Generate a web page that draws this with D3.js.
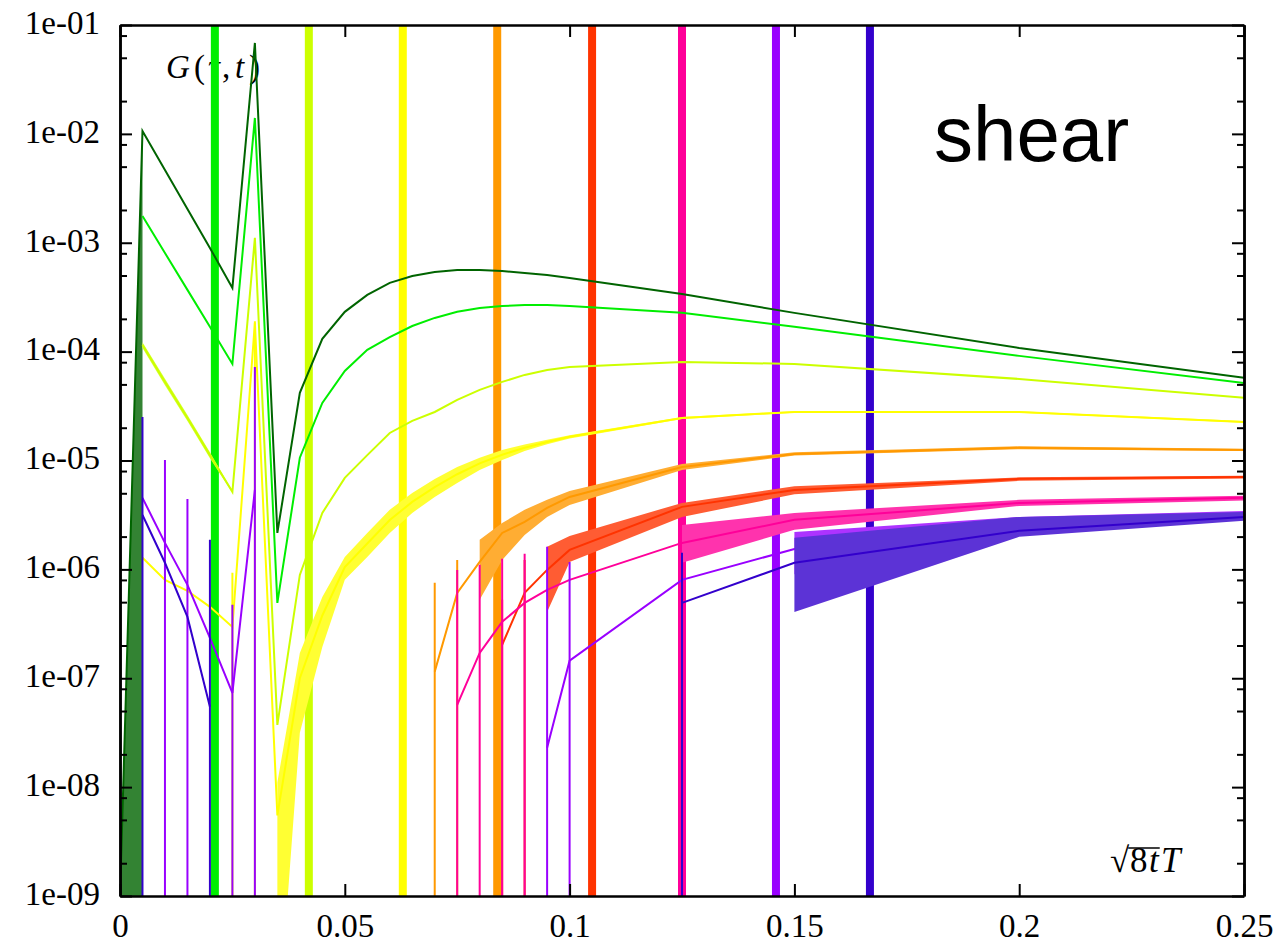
<!DOCTYPE html>
<html>
<head>
<meta charset="utf-8">
<script src="https://cdn.jsdelivr.net/npm/d3@7"></script>
<style>
  body { margin: 0; background: #fff; }
</style>
</head>
<body>
<script>
// one array per tau, rows are [sqrt(8t)T, G, lower, upper]
// lower = 0 means the lower error went negative (drawn as a bar to the bottom)
var tau1 = [
  [0, 1e-9, 1e-9, 1e-9], [0.005, 1.06e-2, 1e-9, 1.1e-2], [0.01, 4.67e-3], [0.015, 2.04e-3],
  [0.02, 8.96e-4], [0.025, 3.85e-4], [0.03, 6.84e-2], [0.035, 2.16e-6], [0.04, 4.18e-5],
  [0.045, 1.31e-4], [0.05, 2.32e-4], [0.055, 3.32e-4], [0.06, 4.28e-4], [0.065, 4.95e-4],
  [0.07, 5.39e-4], [0.075, 5.62e-4], [0.08, 5.62e-4], [0.085, 5.51e-4], [0.09, 5.28e-4],
  [0.095, 5.06e-4], [0.1, 4.75e-4], [0.125, 3.39e-4], [0.15, 2.27e-4], [0.2, 1.08e-4], [0.25, 5.74e-5]
];
var tau2 = [
  [0.005, 1.76e-3], [0.01, 8.05e-4], [0.015, 3.69e-4], [0.02, 1.69e-4], [0.025, 7.71e-5],
  [0.03, 1.40e-2], [0.035, 4.92e-7], [0.04, 1.06e-5], [0.045, 3.38e-5], [0.05, 6.65e-5],
  [0.055, 1.04e-4], [0.06, 1.36e-4], [0.065, 1.72e-4], [0.07, 2.04e-4], [0.075, 2.32e-4],
  [0.08, 2.52e-4], [0.085, 2.62e-4], [0.09, 2.68e-4], [0.095, 2.68e-4], [0.1, 2.62e-4],
  [0.125, 2.27e-4], [0.15, 1.69e-4], [0.2, 9.14e-5], [0.25, 5.16e-5]
];
var tau3 = [
  [0.005, 1.15e-4, 1.08e-4, 1.22e-4], [0.01, 5.27e-5, 4.92e-5, 5.62e-5], [0.015, 2.46e-5, 2.30e-5, 2.62e-5],
  [0.02, 1.12e-5, 1.05e-5, 1.19e-5], [0.025, 5.15e-6, 5.05e-6, 5.25e-6], [0.03, 1.11e-3],
  [0.035, 3.73e-8], [0.04, 8.9e-7], [0.045, 3.30e-6], [0.05, 6.92e-6], [0.055, 1.12e-5],
  [0.06, 1.79e-5], [0.065, 2.31e-5], [0.07, 2.79e-5], [0.075, 3.60e-5], [0.08, 4.45e-5],
  [0.085, 5.27e-5], [0.09, 6.11e-5], [0.095, 6.79e-5], [0.1, 7.24e-5], [0.125, 8.04e-5],
  [0.15, 7.71e-5], [0.2, 5.61e-5], [0.25, 3.76e-5]
];
var tau4 = [
  [0.005, 1.28e-6], [0.01, 8.01e-7], [0.015, 6.36e-7], [0.02, 4.53e-7], [0.025, 2.96e-7, 0, 9.29e-7],
  [0.03, 1.84e-4, 0, 1.9e-4], [0.035, 5.5e-9, 5e-11, 1.1e-8], [0.04, 1.0e-7, 3.15e-8, 1.71e-7],
  [0.045, 3.77e-7, 1.94e-7, 5.59e-7], [0.05, 1.05e-6, 8.01e-7, 1.30e-6], [0.055, 1.73e-6, 1.30e-6, 2.16e-6],
  [0.06, 2.84e-6, 2.16e-6, 3.52e-6], [0.065, 4.17e-6, 3.30e-6, 5.04e-6], [0.07, 5.7e-6, 4.63e-6, 6.78e-6],
  [0.075, 7.48e-6, 6.23e-6, 8.73e-6], [0.08, 9.4e-6, 8.2e-6, 1.06e-5], [0.085, 1.13e-5, 1.01e-5, 1.25e-5],
  [0.09, 1.31e-5, 1.22e-5, 1.40e-5], [0.095, 1.48e-5, 1.41e-5, 1.55e-5], [0.1, 1.65e-5, 1.59e-5, 1.71e-5],
  [0.125, 2.46e-5, 2.41e-5, 2.51e-5], [0.15, 2.79e-5, 2.74e-5, 2.84e-5], [0.2, 2.79e-5, 2.74e-5, 2.84e-5],
  [0.25, 2.26e-5, 2.22e-5, 2.30e-5]
];
var tau5 = [
  [0.07, 1.15e-7, 0, 7.52e-7], [0.075, 6.08e-7, 0, 1.22e-6], [0.08, 1.17e-6, 5.25e-7, 1.87e-6],
  [0.085, 2.16e-6, 1.22e-6, 2.67e-6], [0.09, 2.73e-6, 2.07e-6, 3.52e-6], [0.095, 3.67e-6, 3.03e-6, 4.36e-6],
  [0.1, 4.63e-6, 3.91e-6, 5.26e-6], [0.125, 8.73e-6, 8.2e-6, 9.3e-6], [0.15, 1.15e-5, 1.11e-5, 1.19e-5],
  [0.2, 1.31e-5, 1.27e-5, 1.35e-5], [0.25, 1.25e-5, 1.22e-5, 1.28e-5]
];
var tau6 = [
  [0.085, 2.03e-7, 0, 5.25e-7], [0.09, 6.08e-7, 0, 1.22e-6], [0.095, 9.89e-7, 4.07e-7, 1.61e-6],
  [0.1, 1.51e-6, 1.17e-6, 2.03e-6], [0.125, 3.75e-6, 3.03e-6, 4.08e-6], [0.15, 5.37e-6, 4.9e-6, 5.8e-6],
  [0.2, 6.78e-6, 6.5e-6, 7.0e-6], [0.25, 7.06e-6, 6.85e-6, 7.25e-6]
];
var tau7 = [
  [0.075, 5.70e-8, 0, 9.89e-7], [0.08, 1.71e-7, 0, 1.10e-6], [0.085, 3.30e-7, 0, 1.25e-6],
  [0.09, 4.92e-7, 0, 1.39e-6], [0.095, 6.49e-7], [0.1, 8.01e-7], [0.125, 1.75e-6, 1.15e-6, 2.56e-6],
  [0.15, 2.85e-6, 2.31e-6, 3.30e-6], [0.2, 4.08e-6, 3.83e-6, 4.35e-6], [0.25, 4.54e-6, 4.3e-6, 4.75e-6]
];
var tau8 = [
  [0.005, 4.54e-6], [0.01, 1.75e-6, 0, 1.01e-5], [0.015, 7.21e-7, 0, 4.44e-6], [0.02, 2.35e-7],
  [0.025, 7.35e-8, 0, 4.72e-7], [0.03, 5.37e-6, 0, 7.24e-5], [0.035, null],
  [0.095, 2.30e-8, 0, 1.61e-6], [0.1, 1.45e-7, 0, 1.17e-6], [0.125, 8.01e-7],
  [0.15, 1.54e-6, 0.9e-6, 2.21e-6], [0.2, 2.62e-6, 2.2e-6, 3.03e-6], [0.25, 3.24e-6, 3.0e-6, 3.44e-6]
];
var tau9 = [
  [0.005, 3.16e-6, 0, 2.51e-5], [0.01, 1.15e-6], [0.015, 3.66e-7], [0.02, 5.46e-8, 0, 1.87e-6],
  [0.025, null], [0.125, 4.92e-7, 0, 1.42e-6], [0.15, 1.15e-6, 4.07e-7, 1.95e-6],
  [0.2, 2.26e-6, 1.99e-6, 3.03e-6], [0.25, 3.03e-6, 2.79e-6, 3.37e-6]
];

var tauColors = ['#006400', '#00ee00', '#ccff00', '#ffff00', '#ff9900', '#ff3300', '#ff0099', '#9900ff', '#3300cc'];
// flow time limit for tau2..tau9
var cutoffX = [0.0211, 0.0420, 0.0629, 0.0839, 0.1050, 0.1250, 0.1459, 0.1668];

var yTicks = [1e-9, 1e-8, 1e-7, 1e-6, 1e-5, 1e-4, 1e-3, 1e-2, 1e-1];
var yTickLabels = ['1e-09', '1e-08', '1e-07', '1e-06', '1e-05', '1e-04', '1e-03', '1e-02', '1e-01'];
var yMinorSteps = [2, 5, 8];
var xTicks = [0, 0.05, 0.1, 0.15, 0.2, 0.25];
var xTickLabels = ['0', '0.05', '0.1', '0.15', '0.2', '0.25'];

var w = 1278;
var h = 943;
var padLeft = 120, padRight = 1244, padTop = 25, padBottom = 896;
var serif = 'Liberation Serif, Times New Roman, serif';

var svg = d3.select('body')
  .append('svg')
  .attr('width', w)
  .attr('height', h);

svg.append('rect')
  .attr('width', w)
  .attr('height', h)
  .attr('fill', 'white');

var xScale = d3.scaleLinear()
  .domain([0, 0.25])
  .range([padLeft, padRight]);

var yScale = d3.scaleLog()
  .domain([1e-9, 1e-1])
  .range([padBottom, padTop]);

svg.append('clipPath')
  .attr('id', 'plotArea')
  .append('rect')
  .attr('x', padLeft)
  .attr('y', padTop)
  .attr('width', padRight - padLeft)
  .attr('height', padBottom - padTop);

// label sits behind everything
var gLabel = svg.append('text')
  .attr('y', 78)
  .attr('font-family', serif)
  .attr('font-size', 33);
gLabel.append('tspan').attr('x', 166).attr('font-style', 'italic').text('G');
gLabel.append('tspan').attr('x', 194).text('(');
gLabel.append('tspan').attr('x', 208).attr('font-style', 'italic').text('τ');
gLabel.append('tspan').attr('x', 222).text(',');
gLabel.append('tspan').attr('x', 235).attr('font-style', 'italic').text('t');
gLabel.append('tspan').attr('x', 249).text(')');

var plot = svg.append('g').attr('clip-path', 'url(#plotArea)');

// vertical markers, behind the data
plot.selectAll('rect.cut')
  .data(cutoffX)
  .enter()
  .append('rect')
  .attr('class', 'cut')
  .attr('x', function(d){ return xScale(d) - 4; })
  .attr('y', padTop)
  .attr('width', 8)
  .attr('height', padBottom - padTop)
  .attr('fill', function(d, i){ return tauColors[i + 1]; });

var allTau = [tau1, tau2, tau3, tau4, tau5, tau6, tau7, tau8, tau9];

var band = d3.area()
  .defined(function(d){ return d[2] > 0 && d[3] > 0; })
  .x(function(d){ return xScale(d[0]); })
  .y0(function(d){ return yScale(d[2]); })
  .y1(function(d){ return yScale(d[3]); });

var line = d3.line()
  .defined(function(d){ return d[1] != null; })
  .x(function(d){ return xScale(d[0]); })
  .y(function(d){ return yScale(d[1]); });

allTau.forEach(function(rows, i){
  var colour = tauColors[i];

  plot.append('path')
    .attr('d', band(rows))
    .attr('fill', d3.interpolateRgb(colour, '#ffffff')(0.2))
    .attr('stroke', 'none');

  plot.append('path')
    .attr('d', line(rows))
    .attr('fill', 'none')
    .attr('stroke', colour)
    .attr('stroke-width', 2);

  plot.selectAll('line.err' + i)
    .data(rows.filter(function(d){ return d[2] === 0; }))
    .enter()
    .append('line')
    .attr('class', 'err' + i)
    .attr('x1', function(d){ return xScale(d[0]); })
    .attr('x2', function(d){ return xScale(d[0]); })
    .attr('y1', function(d){ return yScale(d[3]); })
    .attr('y2', padBottom + 5)
    .attr('stroke', colour)
    .attr('stroke-width', 2);
});

// axes, ticks point inwards
var yMinor = [];
yTicks.forEach(function(t){
  yMinorSteps.forEach(function(m){
    if (t * m < 1e-1) yMinor.push(t * m);
  });
});

function styleAxis(g){
  g.select('.domain').attr('stroke-width', 2.5);
  g.selectAll('.tick line').attr('stroke-width', 2);
  g.selectAll('text')
    .attr('font-family', serif)
    .attr('font-size', 33)
    .attr('fill', 'black');
}

svg.append('g')
  .attr('transform', 'translate(' + padLeft + ',0)')
  .call(d3.axisLeft(yScale).tickValues(yTicks)
    .tickFormat(function(d, i){ return yTickLabels[i]; })
    .tickSizeInner(-12).tickSizeOuter(0).tickPadding(20))
  .call(styleAxis)
  .selectAll('text').attr('dy', '0.25em');

svg.append('g')
  .attr('transform', 'translate(' + padLeft + ',0)')
  .call(d3.axisLeft(yScale).tickValues(yMinor).tickFormat('')
    .tickSizeInner(-7).tickSizeOuter(0))
  .call(styleAxis);

svg.append('g')
  .attr('transform', 'translate(' + padRight + ',0)')
  .call(d3.axisRight(yScale).tickValues(yTicks).tickFormat('')
    .tickSizeInner(-12).tickSizeOuter(0))
  .call(styleAxis);

svg.append('g')
  .attr('transform', 'translate(' + padRight + ',0)')
  .call(d3.axisRight(yScale).tickValues(yMinor).tickFormat('')
    .tickSizeInner(-7).tickSizeOuter(0))
  .call(styleAxis);

svg.append('g')
  .attr('transform', 'translate(0,' + padBottom + ')')
  .call(d3.axisBottom(xScale).tickValues(xTicks)
    .tickFormat(function(d, i){ return xTickLabels[i]; })
    .tickSizeInner(-12).tickSizeOuter(0).tickPadding(18))
  .call(styleAxis);

svg.append('g')
  .attr('transform', 'translate(0,' + padTop + ')')
  .call(d3.axisTop(xScale).tickValues(xTicks).tickFormat('')
    .tickSizeInner(-12).tickSizeOuter(0))
  .call(styleAxis);

// titles
svg.append('text')
  .attr('x', 934)
  .attr('y', 161)
  .attr('font-family', 'Liberation Sans, Arial, sans-serif')
  .attr('font-size', 78)
  .text('shear');

var xLabel = svg.append('text')
  .attr('y', 872)
  .attr('font-family', serif)
  .attr('font-size', 35);
xLabel.append('tspan').attr('x', 1110).text('√');
xLabel.append('tspan').attr('x', 1130).text('8');
xLabel.append('tspan').attr('x', 1149).attr('font-style', 'italic').text('t');
xLabel.append('tspan').attr('x', 1161).attr('font-style', 'italic').text('T');

var rootStart = xLabel.node().getEndPositionOfChar(0).x;
var rootEnd = xLabel.node().getEndPositionOfChar(2).x;
svg.append('line')
  .attr('x1', rootStart - 1)
  .attr('x2', rootEnd + 1)
  .attr('y1', 848)
  .attr('y2', 848)
  .attr('stroke', 'black')
  .attr('stroke-width', 1.5);
</script>
</body>
</html>
